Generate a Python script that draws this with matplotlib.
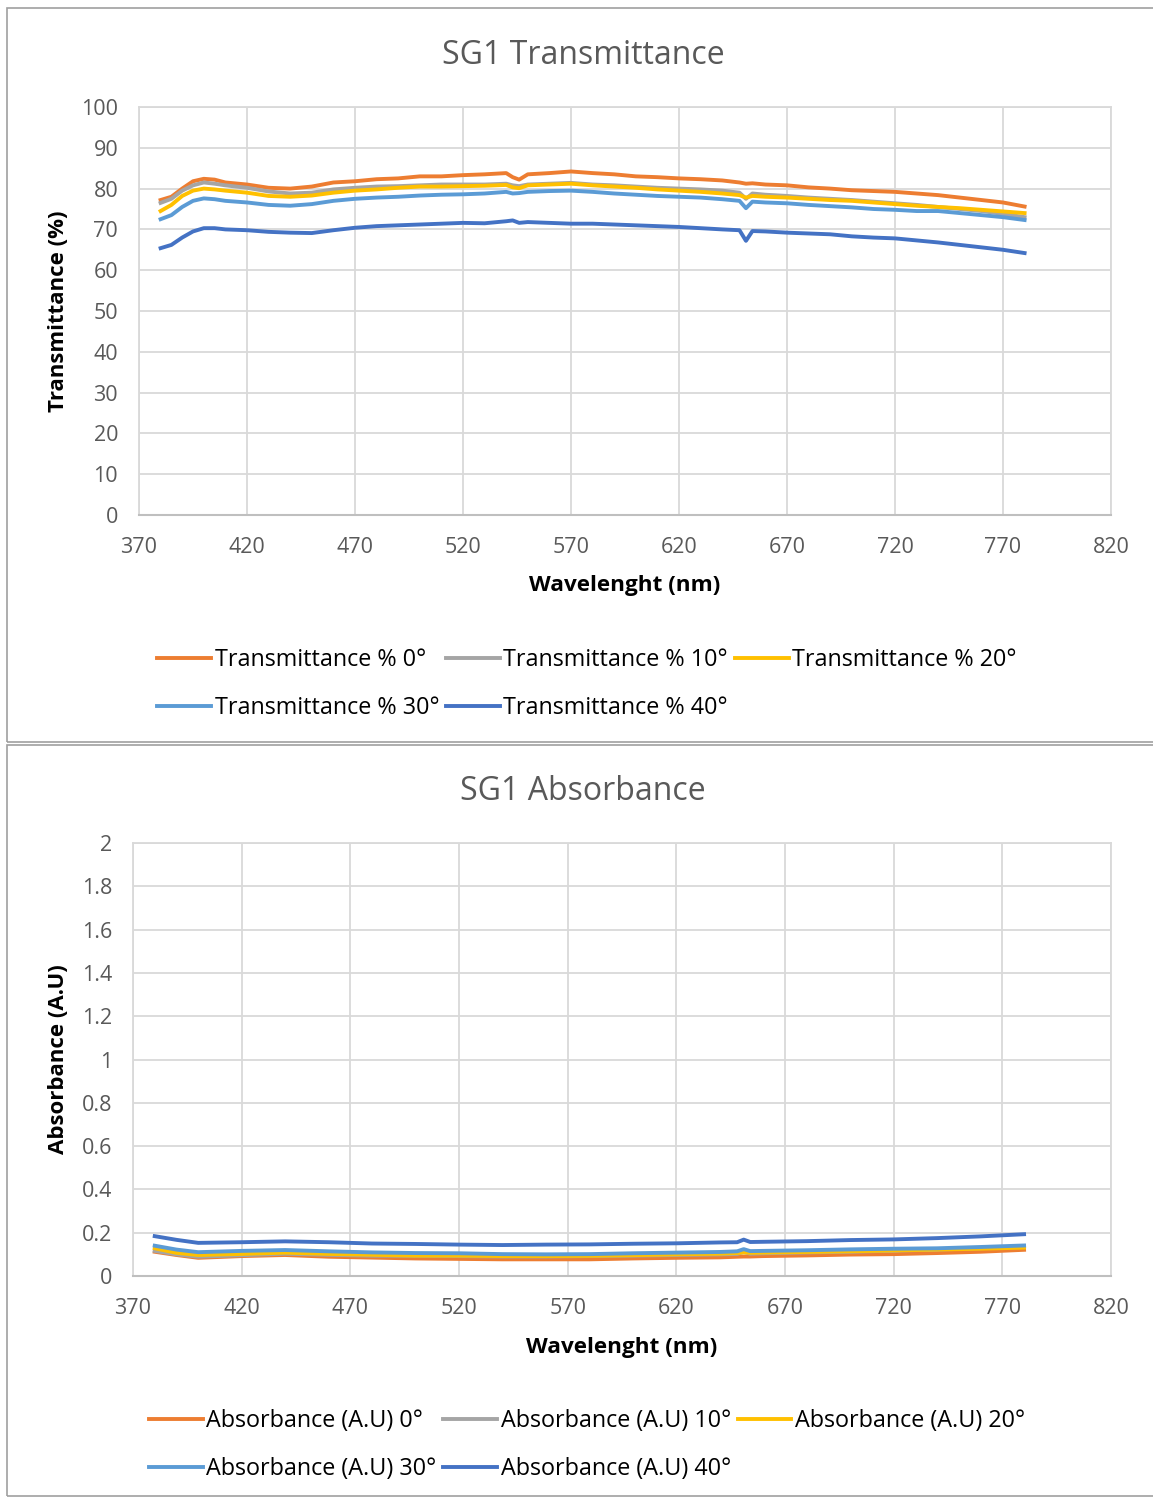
import numpy as np
import matplotlib
matplotlib.use("Agg")
import matplotlib.pyplot as plt
from matplotlib.patches import Rectangle

plt.rcParams['font.family'] = ['Open Sans', 'DejaVu Sans']

# wavelengths (nm) for transmittance curves
wl = [380, 385, 390, 395, 400, 405, 410, 420, 430, 440, 450, 460, 470, 480, 490,
      500, 510, 520, 530, 540, 543, 546, 550, 560, 570, 580, 590, 600, 610, 620,
      630, 640, 648, 651, 654, 660, 670, 680, 690, 700, 710, 720, 730, 740, 750,
      760, 770, 780]

t0 = [77.2, 78.0, 80.0, 81.8, 82.4, 82.2, 81.5, 81.0, 80.2, 80.0, 80.5, 81.5, 81.8, 82.3, 82.5,
      83.0, 83.0, 83.3, 83.5, 83.8, 82.8, 82.2, 83.5, 83.8, 84.2, 83.8, 83.5, 83.0, 82.8, 82.5,
      82.3, 82.0, 81.5, 81.2, 81.3, 81.0, 80.8, 80.3, 80.0, 79.6, 79.4, 79.2, 78.8, 78.4, 77.8,
      77.2, 76.6, 75.6]
t10 = [76.5, 77.5, 79.5, 80.8, 81.5, 81.2, 80.8, 80.2, 79.3, 78.8, 79.0, 79.8, 80.2, 80.5, 80.6,
       80.8, 81.0, 81.0, 81.0, 81.2, 80.8, 80.6, 81.0, 81.2, 81.4, 81.0, 80.8, 80.5, 80.2, 80.0,
       79.8, 79.5, 79.0, 77.5, 78.8, 78.5, 78.2, 77.8, 77.5, 77.2, 76.8, 76.4, 76.0, 75.5, 75.0,
       74.5, 73.8, 73.0]
t20 = [74.5, 76.0, 78.2, 79.5, 80.0, 79.8, 79.5, 79.0, 78.2, 78.0, 78.3, 79.0, 79.5, 79.8, 80.2,
       80.5, 80.5, 80.6, 80.7, 80.9, 80.3, 80.1, 80.8, 81.0, 81.2, 80.8, 80.5, 80.2, 79.8, 79.5,
       79.2, 78.8, 78.4, 77.8, 78.2, 78.0, 77.8, 77.5, 77.2, 77.0, 76.6, 76.2, 75.8, 75.5, 75.2,
       74.8, 74.4, 74.0]
t30 = [72.5, 73.5, 75.5, 77.0, 77.6, 77.4, 77.0, 76.6, 76.0, 75.8, 76.2, 77.0, 77.5, 77.8, 78.0,
       78.3, 78.5, 78.6, 78.8, 79.2, 78.8, 78.9, 79.2, 79.4, 79.5, 79.2, 78.8, 78.5, 78.2, 78.0,
       77.8, 77.4, 77.0, 75.2, 76.8, 76.6, 76.4, 76.0, 75.7, 75.4, 75.0, 74.8, 74.5, 74.5, 74.0,
       73.5, 73.0, 72.3]
t40 = [65.4, 66.2, 68.0, 69.5, 70.3, 70.3, 70.0, 69.8, 69.4, 69.2, 69.1, 69.8, 70.4, 70.8, 71.0,
       71.2, 71.4, 71.6, 71.5, 72.0, 72.2, 71.6, 71.8, 71.6, 71.4, 71.4, 71.2, 71.0, 70.8, 70.6,
       70.3, 70.0, 69.8, 67.2, 69.6, 69.5, 69.2, 69.0, 68.8, 68.3, 68.0, 67.8, 67.3, 66.8, 66.2,
       65.6, 65.0, 64.2]

# wavelengths (nm) for absorbance curves
awl = [380, 390, 400, 420, 440, 460, 480, 500, 520, 540, 560, 580, 600, 620, 640,
       648, 651, 654, 660, 680, 700, 720, 740, 760, 780]

a0 = [0.112, 0.097, 0.084, 0.092, 0.097, 0.089, 0.085, 0.081, 0.079, 0.077, 0.077, 0.077, 0.081,
      0.084, 0.086, 0.089, 0.090, 0.090, 0.092, 0.095, 0.099, 0.101, 0.106, 0.112, 0.121]
a10 = [0.116, 0.100, 0.089, 0.096, 0.103, 0.098, 0.094, 0.093, 0.092, 0.090, 0.090, 0.092, 0.094,
       0.097, 0.100, 0.102, 0.111, 0.103, 0.105, 0.109, 0.112, 0.117, 0.122, 0.128, 0.137]
a20 = [0.128, 0.107, 0.097, 0.102, 0.108, 0.102, 0.098, 0.094, 0.094, 0.092, 0.092, 0.093, 0.096,
       0.100, 0.103, 0.106, 0.109, 0.107, 0.108, 0.111, 0.114, 0.118, 0.122, 0.126, 0.131]
a30 = [0.140, 0.122, 0.110, 0.116, 0.120, 0.114, 0.109, 0.106, 0.105, 0.101, 0.100, 0.101, 0.105,
       0.108, 0.111, 0.114, 0.124, 0.115, 0.116, 0.119, 0.123, 0.126, 0.128, 0.134, 0.141]
a40 = [0.184, 0.167, 0.153, 0.156, 0.160, 0.156, 0.150, 0.148, 0.145, 0.143, 0.145, 0.146, 0.149,
       0.151, 0.155, 0.156, 0.168, 0.157, 0.158, 0.161, 0.166, 0.169, 0.175, 0.183, 0.193]

angles = ["0°", "10°", "20°", "30°", "40°"]
colors = ["#ED7D31", "#A5A5A5", "#FFC000", "#5B9BD5", "#4472C4"]

W, H = 1153, 1497
fig = plt.figure(figsize=(W / 100, H / 100), dpi=100)

# chart frames
fig.patches.append(Rectangle((7 / W, 1 - 742 / H), 1.2, 734 / H, transform=fig.transFigure,
                             fill=False, ec="#A0A0A0", lw=1.2))
fig.patches.append(Rectangle((7 / W, 1 - 1496 / H), 1.2, 751 / H, transform=fig.transFigure,
                             fill=False, ec="#A0A0A0", lw=1.2))

grey_txt = "#595959"


def style_axes(ax, xlabel, ylabel, left_px, height_px):
    ax.set_xlim(370, 820)
    ax.set_xticks(np.arange(370, 821, 50))
    ax.grid(True, color="#D9D9D9", lw=1.3)
    ax.set_axisbelow(True)
    for s in ["left", "top", "right"]:
        ax.spines[s].set_color("#D9D9D9")
        ax.spines[s].set_linewidth(1.3)
    ax.spines["bottom"].set_color("#BFBFBF")
    ax.spines["bottom"].set_linewidth(1.5)
    ax.tick_params(length=0, pad=15, labelsize=15.5, labelcolor=grey_txt)
    ax.tick_params(axis="x", pad=16)
    ax.set_xlabel(xlabel, fontsize=16.2, fontweight="bold", va="center")
    ax.set_ylabel(ylabel, fontsize=16, fontweight="bold", va="center")
    ax.xaxis.set_label_coords(0.5, -71 / height_px)
    ax.yaxis.set_label_coords((58 - left_px) / (1111 - left_px), 0.5)


# Transmittance
ax1 = fig.add_axes([139 / W, 1 - 515 / H, 972 / W, 408 / H])
series_t = [t0, t10, t20, t30, t40]
for vals, ang, c in zip(series_t, angles, colors):
    ax1.plot(wl, vals, color=c, lw=2.8, label="Transmittance % " + ang)
ax1.set_ylim(0, 100)
ax1.set_yticks(np.arange(0, 101, 10))
style_axes(ax1, "Wavelenght (nm)", "Transmittance (%)", 139, 408)
fig.text(583 / W, 1 - 55 / H, "SG1 Transmittance", ha="center", va="center",
         fontsize=23, color=grey_txt)

# Absorbance
ax2 = fig.add_axes([133 / W, 1 - 1276 / H, 978 / W, 433 / H])
series_a = [a0, a10, a20, a30, a40]
for vals, ang, c in zip(series_a, angles, colors):
    ax2.plot(awl, vals, color=c, lw=2.8, label="Absorbance (A.U) " + ang)
ax2.set_ylim(0, 2)
ax2.set_yticks(np.arange(0, 2.01, 0.2))
ax2.set_yticklabels(["0", "0.2", "0.4", "0.6", "0.8", "1", "1.2", "1.4", "1.6", "1.8", "2"])
style_axes(ax2, "Wavelenght (nm)", "Absorbance (A.U)", 133, 433)
fig.text(583 / W, 1 - 792 / H, "SG1 Absorbance", ha="center", va="center",
         fontsize=23, color=grey_txt)

order = [0, 3, 1, 4, 2]
for ax, y in [(ax1, 684), (ax2, 1445)]:
    h, l = ax.get_legend_handles_labels()
    ax.legend([h[i] for i in order], [l[i] for i in order], ncol=3, loc="center",
              bbox_to_anchor=(587 / W, 1 - y / H), bbox_transform=fig.transFigure,
              frameon=False, fontsize=16.8, handlelength=2.3, handletextpad=0.15,
              columnspacing=0.3, labelspacing=1.05)

fig.savefig("out.png", dpi=100)
